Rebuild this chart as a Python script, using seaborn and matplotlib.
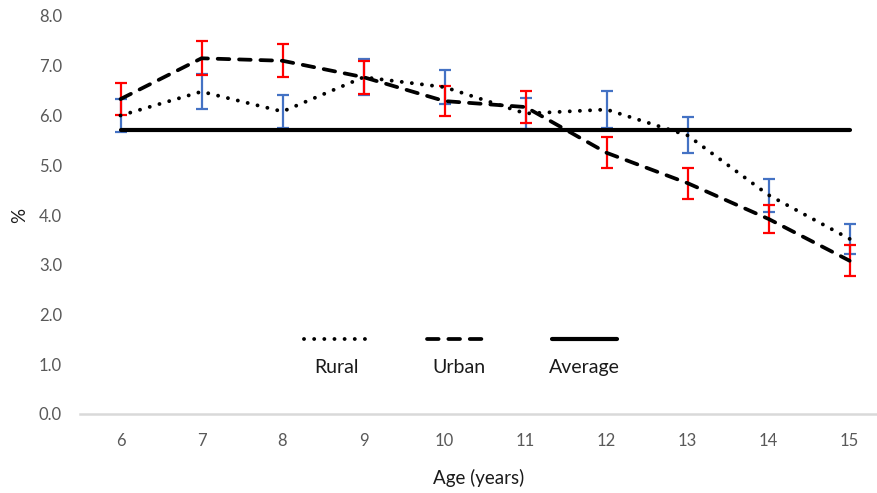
import matplotlib
matplotlib.use("Agg")
import matplotlib.pyplot as plt
import seaborn as sns
import pandas as pd
from matplotlib.lines import Line2D
from matplotlib.offsetbox import VPacker

ages = [6, 7, 8, 9, 10, 11, 12, 13, 14, 15]
rural = [6.00, 6.48, 6.08, 6.77, 6.57, 6.04, 6.12, 5.60, 4.40, 3.52]
rural_err = [0.33, 0.35, 0.33, 0.36, 0.34, 0.32, 0.37, 0.36, 0.33, 0.30]
urban = [6.33, 7.15, 7.10, 6.77, 6.29, 6.17, 5.25, 4.64, 3.92, 3.08]
urban_err = [0.32, 0.34, 0.33, 0.33, 0.30, 0.32, 0.31, 0.31, 0.29, 0.31]
average = [5.7] * 10
y_ticks = [0, 1, 2, 3, 4, 5, 6, 7, 8]
series_names = ["Rural", "Urban", "Average"]

sns.set_theme(style="white")
plt.rcParams["font.family"] = ["Lato", "DejaVu Sans"]

W, H = 878, 493
fig = plt.figure(figsize=(W / 100, H / 100), dpi=100)
ax = fig.add_axes([80 / W, (H - 414) / H, (W - 80) / W, (414 - 16) / H])

# error bars
ax.errorbar(ages, rural, yerr=rural_err, fmt="none", ecolor="#4472C4",
            elinewidth=1.6, capsize=4, capthick=1.6, zorder=2)
ax.errorbar(ages, urban, yerr=urban_err, fmt="none", ecolor="#FF0000",
            elinewidth=1.6, capsize=4, capthick=1.6, zorder=2)

df = pd.DataFrame({
    "age": ages * 3,
    "value": rural + urban + average,
    "series": [series_names[0]] * 10 + [series_names[1]] * 10 + [series_names[2]] * 10,
})
styles = {"Rural": (0, (0.01, 2.6)), "Urban": (0, (3.1, 2.6)), "Average": "-"}
widths = {"Rural": 2.8, "Urban": 2.7, "Average": 3.0}
for name in series_names:
    sub = df[df["series"] == name]
    sns.lineplot(data=sub, x="age", y="value", ax=ax, color="black",
                 linewidth=widths[name], linestyle=styles[name],
                 dash_capstyle="round", solid_capstyle="round",
                 legend=False, zorder=3)

ax.set_xlim(5.5, 15.35)
ax.set_ylim(0, 8)
ax.set_xticks(ages)
ax.set_xticklabels([str(a) for a in ages])
ax.set_yticks(y_ticks)
ax.set_yticklabels([f"{v:.1f}" for v in y_ticks])
ax.tick_params(axis="both", length=0, labelsize=12, labelcolor="#595959")
ax.tick_params(axis="y", pad=13)
ax.tick_params(axis="x", pad=14)
for s in ["top", "right", "left"]:
    ax.spines[s].set_visible(False)
ax.spines["bottom"].set_color("#D9D9D9")
ax.spines["bottom"].set_linewidth(1.8)
ax.set_xlabel("Age (years)", fontsize=13.5, color="#1a1a1a", labelpad=14)
ax.set_ylabel("%", fontsize=13.5, color="#1a1a1a", labelpad=8)
ax.grid(False)

handles = [Line2D([], [], color="black", lw=widths[n], linestyle=styles[n],
                  dash_capstyle="round", solid_capstyle="round") for n in series_names]
lx = (462 - 80) / (W - 80)
ly = (414 - 354) / (414 - 16)
leg = ax.legend(handles, series_names, ncol=3, loc="center",
                bbox_to_anchor=(lx, ly), frameon=False, fontsize=14,
                handlelength=3.3, columnspacing=3.0, labelcolor="#1a1a1a")
hbox = leg._legend_handle_box
for col in hbox.get_children():
    kids = col.get_children()
    new = []
    for entry in kids:
        h, t = entry.get_children()
        new.append(VPacker(children=[h, t], align="center", pad=0, sep=9))
    kids[:] = new

fig.savefig("out.png", dpi=100)
